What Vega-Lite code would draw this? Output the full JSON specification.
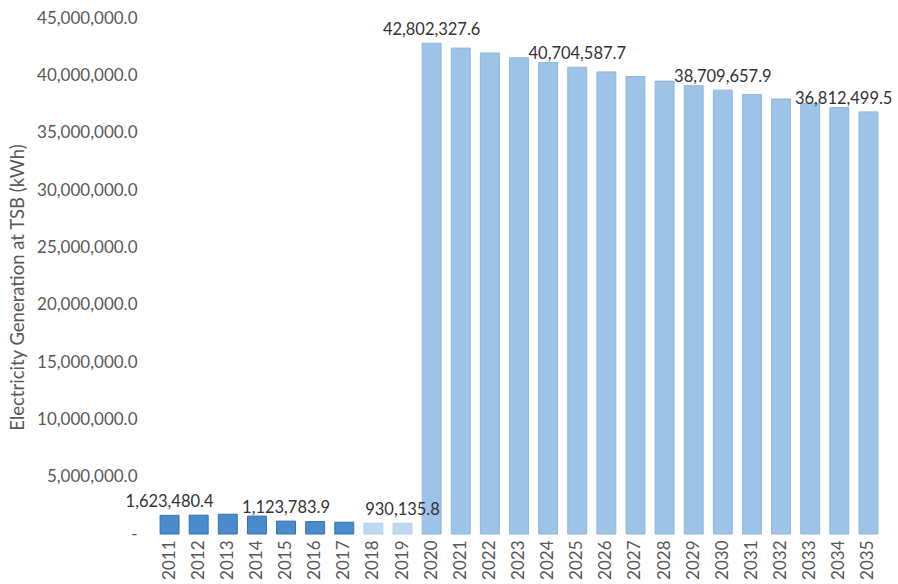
{
  "$schema": "https://vega.github.io/schema/vega-lite/v6.json",
  "autosize": {"type": "none"},
  "width": 728,
  "height": 516,
  "padding": {"left": 155, "top": 18, "right": 15, "bottom": 50},
  "background": "white",
  "config": {
    "view": {"stroke": null},
    "font": "Lato",
    "axis": {"labelFont": "Lato", "titleFont": "Lato", "labelColor": "#595959", "titleColor": "#595959"}
  },
  "data": {
    "values": [
      {"year": "2011", "kwh": 1623480.4, "period": "a", "label": true},
      {"year": "2012", "kwh": 1640000, "period": "a", "label": false},
      {"year": "2013", "kwh": 1720000, "period": "a", "label": false},
      {"year": "2014", "kwh": 1560000, "period": "a", "label": false},
      {"year": "2015", "kwh": 1123783.9, "period": "a", "label": true},
      {"year": "2016", "kwh": 1080000, "period": "a", "label": false},
      {"year": "2017", "kwh": 1030000, "period": "a", "label": false},
      {"year": "2018", "kwh": 945000, "period": "b", "label": false},
      {"year": "2019", "kwh": 930135.8, "period": "b", "label": true},
      {"year": "2020", "kwh": 42802327.6, "period": "c", "label": true},
      {"year": "2021", "kwh": 42374304.3, "period": "c", "label": false},
      {"year": "2022", "kwh": 41950561.3, "period": "c", "label": false},
      {"year": "2023", "kwh": 41531055.7, "period": "c", "label": false},
      {"year": "2024", "kwh": 41115745.1, "period": "c", "label": false},
      {"year": "2025", "kwh": 40704587.7, "period": "c", "label": true},
      {"year": "2026", "kwh": 40297541.8, "period": "c", "label": false},
      {"year": "2027", "kwh": 39894566.4, "period": "c", "label": false},
      {"year": "2028", "kwh": 39495620.7, "period": "c", "label": false},
      {"year": "2029", "kwh": 39100664.5, "period": "c", "label": false},
      {"year": "2030", "kwh": 38709657.9, "period": "c", "label": true},
      {"year": "2031", "kwh": 38322561.3, "period": "c", "label": false},
      {"year": "2032", "kwh": 37939335.7, "period": "c", "label": false},
      {"year": "2033", "kwh": 37559942.3, "period": "c", "label": false},
      {"year": "2034", "kwh": 37184342.9, "period": "c", "label": false},
      {"year": "2035", "kwh": 36812499.5, "period": "c", "label": true}
    ]
  },
  "encoding": {
    "x": {
      "field": "year", "type": "ordinal",
      "scale": {"paddingInner": 0.35, "paddingOuter": 0.175},
      "axis": {"title": null, "labelAngle": -90, "labelFontSize": 17, "labelPadding": 6, "ticks": false, "domain": false, "labelBaseline": "middle"}
    },
    "y": {
      "field": "kwh", "type": "quantitative",
      "scale": {"domain": [0, 45000000], "nice": false},
      "axis": {
        "title": "Electricity Generation at TSB (kWh)",
        "titleFontSize": 18.5, "titleFontWeight": "normal", "titlePadding": 9, "titleY": 269,
        "values": [0, 5000000, 10000000, 15000000, 20000000, 25000000, 30000000, 35000000, 40000000, 45000000],
        "labelExpr": "datum.value == 0 ? '-\u00a0\u00a0\u00a0' : format(datum.value, ',.1f')",
        "labelFontSize": 17, "labelPadding": 18, "ticks": false, "domain": false, "grid": false
      }
    }
  },
  "layer": [
    {
      "mark": {"type": "bar", "strokeWidth": 1},
      "encoding": {
        "color": {"field": "period", "type": "nominal", "scale": {"domain": ["a", "b", "c"], "range": ["#4a8bcb", "#bdd8f0", "#9dc3e6"]}, "legend": null},
        "stroke": {"field": "period", "type": "nominal", "scale": {"domain": ["a", "b", "c"], "range": ["#2f73b5", "#b3d2ee", "#8db8e0"]}, "legend": null}
      }
    },
    {
      "transform": [{"filter": "datum.label && datum.year != '2035'"}],
      "mark": {"type": "text", "baseline": "alphabetic", "dy": -8, "fontSize": 16.5, "color": "#333333"},
      "encoding": {"text": {"field": "kwh", "type": "quantitative", "format": ",.1f"}}
    },
    {
      "transform": [{"filter": "datum.year == '2035'"}],
      "mark": {"type": "text", "baseline": "alphabetic", "align": "right", "dx": 24, "dy": -8, "fontSize": 16.5, "color": "#333333"},
      "encoding": {"text": {"field": "kwh", "type": "quantitative", "format": ",.1f"}}
    }
  ]
}
